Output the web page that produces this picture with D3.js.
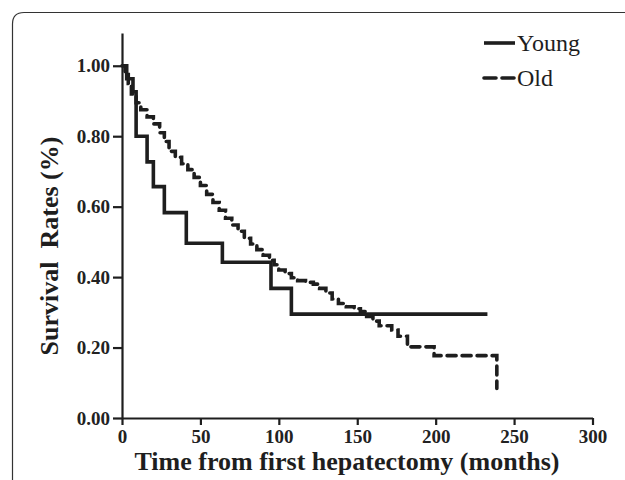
<!DOCTYPE html>
<html>
<head>
<meta charset="utf-8">
<script src="https://cdn.jsdelivr.net/npm/d3@7"></script>
<style>
  body { margin: 0; background: #fff; overflow: hidden; }
  svg { display: block; }
  .tick text { font-family: "Liberation Serif", "Times New Roman", serif; font-weight: bold; fill: #222; }
</style>
</head>
<body>
<svg id="chart" width="625" height="480"></svg>
<script>
// survival data (months, rate)
const youngTime = [0, 3, 7, 9, 16, 20, 27, 41, 64, 95, 108, 233]
const youngRate = [1.0, 0.963, 0.926, 0.80, 0.727, 0.657, 0.583, 0.496, 0.442, 0.368, 0.295, 0.295]

const oldTime = [0, 2, 4, 6, 9, 12, 16, 20, 24, 27, 30, 34, 38, 42, 46, 50, 54, 58, 62, 66, 70, 74, 78, 82, 86, 90, 94, 97, 100, 104, 108, 112, 117, 122, 126, 130, 134, 138, 143, 148, 152, 156, 160, 164, 172, 176, 182, 199, 236, 239]
const oldRate = [1.0, 0.975, 0.95, 0.92, 0.895, 0.875, 0.855, 0.835, 0.81, 0.785, 0.757, 0.74, 0.722, 0.705, 0.683, 0.66, 0.635, 0.612, 0.59, 0.567, 0.548, 0.53, 0.51, 0.494, 0.478, 0.462, 0.448, 0.435, 0.42, 0.41, 0.398, 0.39, 0.385, 0.38, 0.368, 0.355, 0.338, 0.325, 0.316, 0.31, 0.302, 0.288, 0.275, 0.262, 0.25, 0.232, 0.202, 0.177, 0.177, 0.084]

const xTicks = [0, 50, 100, 150, 200, 250, 300]
const yTicks = [0, 0.2, 0.4, 0.6, 0.8, 1.0]
const seriesNames = ['Young', 'Old']

const ink = '#1e1e1e'
const serif = '"Liberation Serif", "Times New Roman", serif'

let svg = d3.select('#chart')

// outer frame: only top and left edges show, with a rounded corner
svg.append('path')
    .attr('d', 'M12.5,480 L12.5,24 Q12.5,12.5 24,12.5 L625,12.5')
    .attr('fill', 'none')
    .attr('stroke', '#333')
    .attr('stroke-width', 1.2)

const x = d3.scaleLinear().domain([0, 300]).range([122, 592.5])
const y = d3.scaleLinear().domain([0, 1.093]).range([418, 33])

// axes
let xAxis = svg.append('g')
    .attr('transform', `translate(0,${y(0)})`)
    .call(d3.axisBottom(x).tickValues(xTicks).tickFormat(d3.format('d')).tickSize(7).tickSizeOuter(0).tickPadding(4))
let yAxis = svg.append('g')
    .attr('transform', `translate(${x(0)},0)`)
    .call(d3.axisLeft(y).tickValues(yTicks).tickFormat(d3.format('.2f')).tickSize(9).tickSizeOuter(0).tickPadding(3))

xAxis.selectAll('text').style('font-size', '19px').attr('dy', '0.75em')
yAxis.selectAll('text').style('font-size', '19px')
svg.selectAll('.domain, .tick line').attr('stroke', ink).attr('stroke-width', 2.2)

// axis titles
svg.append('text')
    .attr('x', 347)
    .attr('y', 470)
    .attr('text-anchor', 'middle')
    .style('font-family', serif)
    .style('font-weight', 'bold')
    .style('font-size', '26px')
    .attr('fill', ink)
    .text('Time from first hepatectomy (months)')

svg.append('text')
    .attr('transform', 'translate(58,246) rotate(-90)')
    .attr('text-anchor', 'middle')
    .style('font-family', serif)
    .style('font-weight', 'bold')
    .style('font-size', '26px')
    .style('white-space', 'pre')
    .attr('fill', ink)
    .text('Survival  Rates (%)')

// survival curves
const line = d3.line()
    .x(d => x(d[0]))
    .y(d => y(d[1]))
    .curve(d3.curveStepAfter)

const youngData = youngTime.map((t, i) => [t, youngRate[i]])
const oldData = oldTime.map((t, i) => [t, oldRate[i]])

svg.append('path')
    .datum(oldData)
    .attr('d', line)
    .attr('fill', 'none')
    .attr('stroke', ink)
    .attr('stroke-width', 3.6)
    .attr('stroke-linecap', 'round')
    .attr('stroke-dasharray', '9,6')

svg.append('path')
    .datum(youngData)
    .attr('d', line)
    .attr('fill', 'none')
    .attr('stroke', ink)
    .attr('stroke-width', 3.6)

// legend
let legend = svg.append('g')
const legendRows = [{ name: seriesNames[0], y: 43, dash: null }, { name: seriesNames[1], y: 78, dash: '12,6' }]
legendRows.forEach(r => {
    legend.append('line')
        .attr('x1', 484)
        .attr('x2', 515)
        .attr('y1', r.y)
        .attr('y2', r.y)
        .attr('stroke', ink)
        .attr('stroke-width', 3.6)
        .attr('stroke-linecap', r.dash ? 'round' : 'butt')
        .attr('stroke-dasharray', r.dash)
    legend.append('text')
        .attr('x', 517)
        .attr('y', r.y + 8)
        .style('font-family', serif)
        .style('font-size', '24px')
        .attr('fill', ink)
        .text(r.name)
})
</script>
</body>
</html>
